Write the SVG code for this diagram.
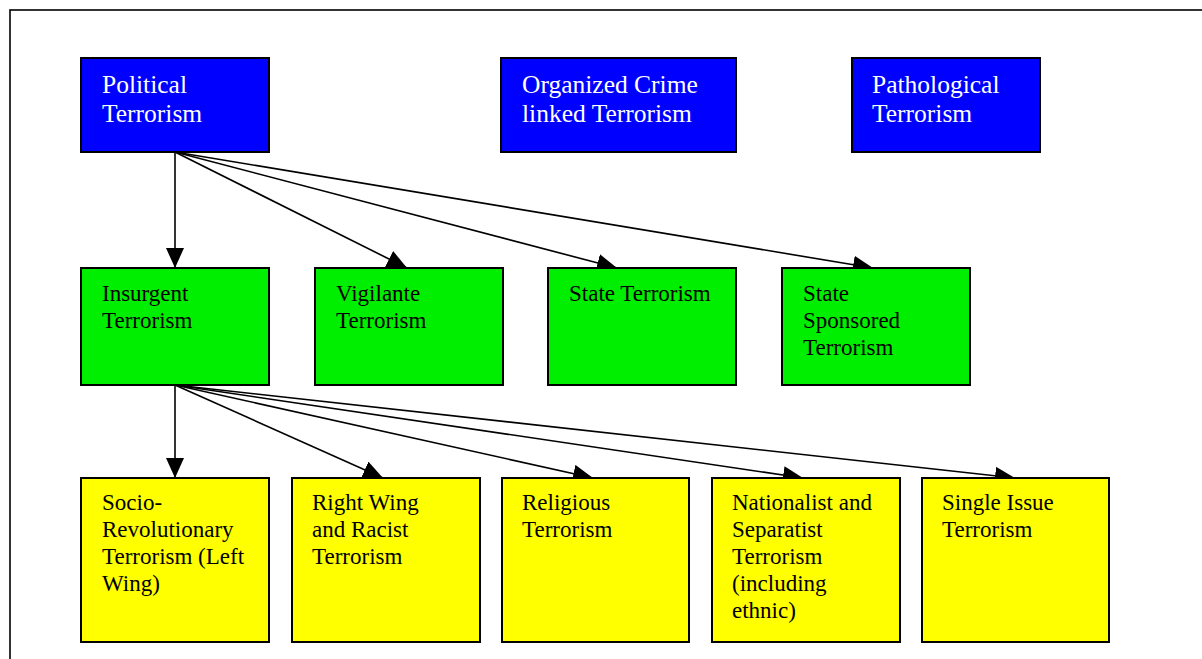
<svg xmlns="http://www.w3.org/2000/svg" width="1202" height="659" viewBox="0 0 1202 659">
<defs>
<style>
.box{stroke:#000;stroke-width:2}
.blue{fill:#0000ff}
.green{fill:#00ee00}
.yellow{fill:#ffff00}
.tb{font-family:"Liberation Serif","Times New Roman",serif;font-size:25.5px;fill:#ffffff}
.tg{font-family:"Liberation Serif","Times New Roman",serif;font-size:23px;fill:#000}
.edge{stroke:#000;stroke-width:1.6;fill:none;marker-end:url(#ah)}
</style>
<marker id="ah" viewBox="0 0 20 18" refX="20" refY="9" markerWidth="20" markerHeight="18" markerUnits="userSpaceOnUse" orient="auto">
<path d="M0,0 L20,9 L0,18 Z" fill="#000"/>
</marker>
</defs>
<rect x="0" y="0" width="1202" height="659" fill="#fff"/>
<rect x="10" y="10" width="1220" height="700" fill="none" stroke="#000" stroke-width="1.6"/>

<g id="connectors">
<line class="edge" x1="175" y1="152" x2="175" y2="268"/>
<line class="edge" x1="175" y1="152" x2="407" y2="268"/>
<line class="edge" x1="175" y1="152" x2="617" y2="268"/>
<line class="edge" x1="175" y1="152" x2="873" y2="268"/>
<line class="edge" x1="175" y1="385" x2="175" y2="478"/>
<line class="edge" x1="175" y1="385" x2="383" y2="478"/>
<line class="edge" x1="175" y1="385" x2="593" y2="478"/>
<line class="edge" x1="175" y1="385" x2="803" y2="478"/>
<line class="edge" x1="175" y1="385" x2="1015" y2="478"/>
</g>

<g id="political">
<rect class="box blue" x="81" y="58" width="188" height="94"/>
<text class="tb" x="102" y="93">Political</text>
<text class="tb" x="102" y="122">Terrorism</text>
</g>
<g id="organized">
<rect class="box blue" x="501" y="58" width="235" height="94"/>
<text class="tb" x="522" y="93">Organized Crime</text>
<text class="tb" x="522" y="122">linked Terrorism</text>
</g>
<g id="pathological">
<rect class="box blue" x="852" y="58" width="188" height="94"/>
<text class="tb" x="872" y="93">Pathological</text>
<text class="tb" x="872" y="122">Terrorism</text>
</g>

<g id="insurgent">
<rect class="box green" x="81" y="268" width="188" height="117"/>
<text class="tg" x="102" y="301">Insurgent</text>
<text class="tg" x="102" y="328">Terrorism</text>
</g>
<g id="vigilante">
<rect class="box green" x="315" y="268" width="188" height="117"/>
<text class="tg" x="336" y="301">Vigilante</text>
<text class="tg" x="336" y="328">Terrorism</text>
</g>
<g id="state">
<rect class="box green" x="548" y="268" width="188" height="117"/>
<text class="tg" x="569" y="301">State Terrorism</text>
</g>
<g id="statesponsored">
<rect class="box green" x="782" y="268" width="188" height="117"/>
<text class="tg" x="803" y="301">State</text>
<text class="tg" x="803" y="328">Sponsored</text>
<text class="tg" x="803" y="355">Terrorism</text>
</g>

<g id="socio">
<rect class="box yellow" x="81" y="478" width="188" height="164"/>
<text class="tg" x="102" y="510">Socio-</text>
<text class="tg" x="102" y="537">Revolutionary</text>
<text class="tg" x="102" y="564">Terrorism (Left</text>
<text class="tg" x="102" y="591">Wing)</text>
</g>
<g id="rightwing">
<rect class="box yellow" x="292" y="478" width="188" height="164"/>
<text class="tg" x="312" y="510">Right Wing</text>
<text class="tg" x="312" y="537">and Racist</text>
<text class="tg" x="312" y="564">Terrorism</text>
</g>
<g id="religious">
<rect class="box yellow" x="502" y="478" width="187" height="164"/>
<text class="tg" x="522" y="510">Religious</text>
<text class="tg" x="522" y="537">Terrorism</text>
</g>
<g id="nationalist">
<rect class="box yellow" x="712" y="478" width="188" height="164"/>
<text class="tg" x="732" y="510">Nationalist and</text>
<text class="tg" x="732" y="537">Separatist</text>
<text class="tg" x="732" y="564">Terrorism</text>
<text class="tg" x="732" y="591">(including</text>
<text class="tg" x="732" y="618">ethnic)</text>
</g>
<g id="singleissue">
<rect class="box yellow" x="922" y="478" width="187" height="164"/>
<text class="tg" x="942" y="510">Single Issue</text>
<text class="tg" x="942" y="537">Terrorism</text>
</g>
</svg>
